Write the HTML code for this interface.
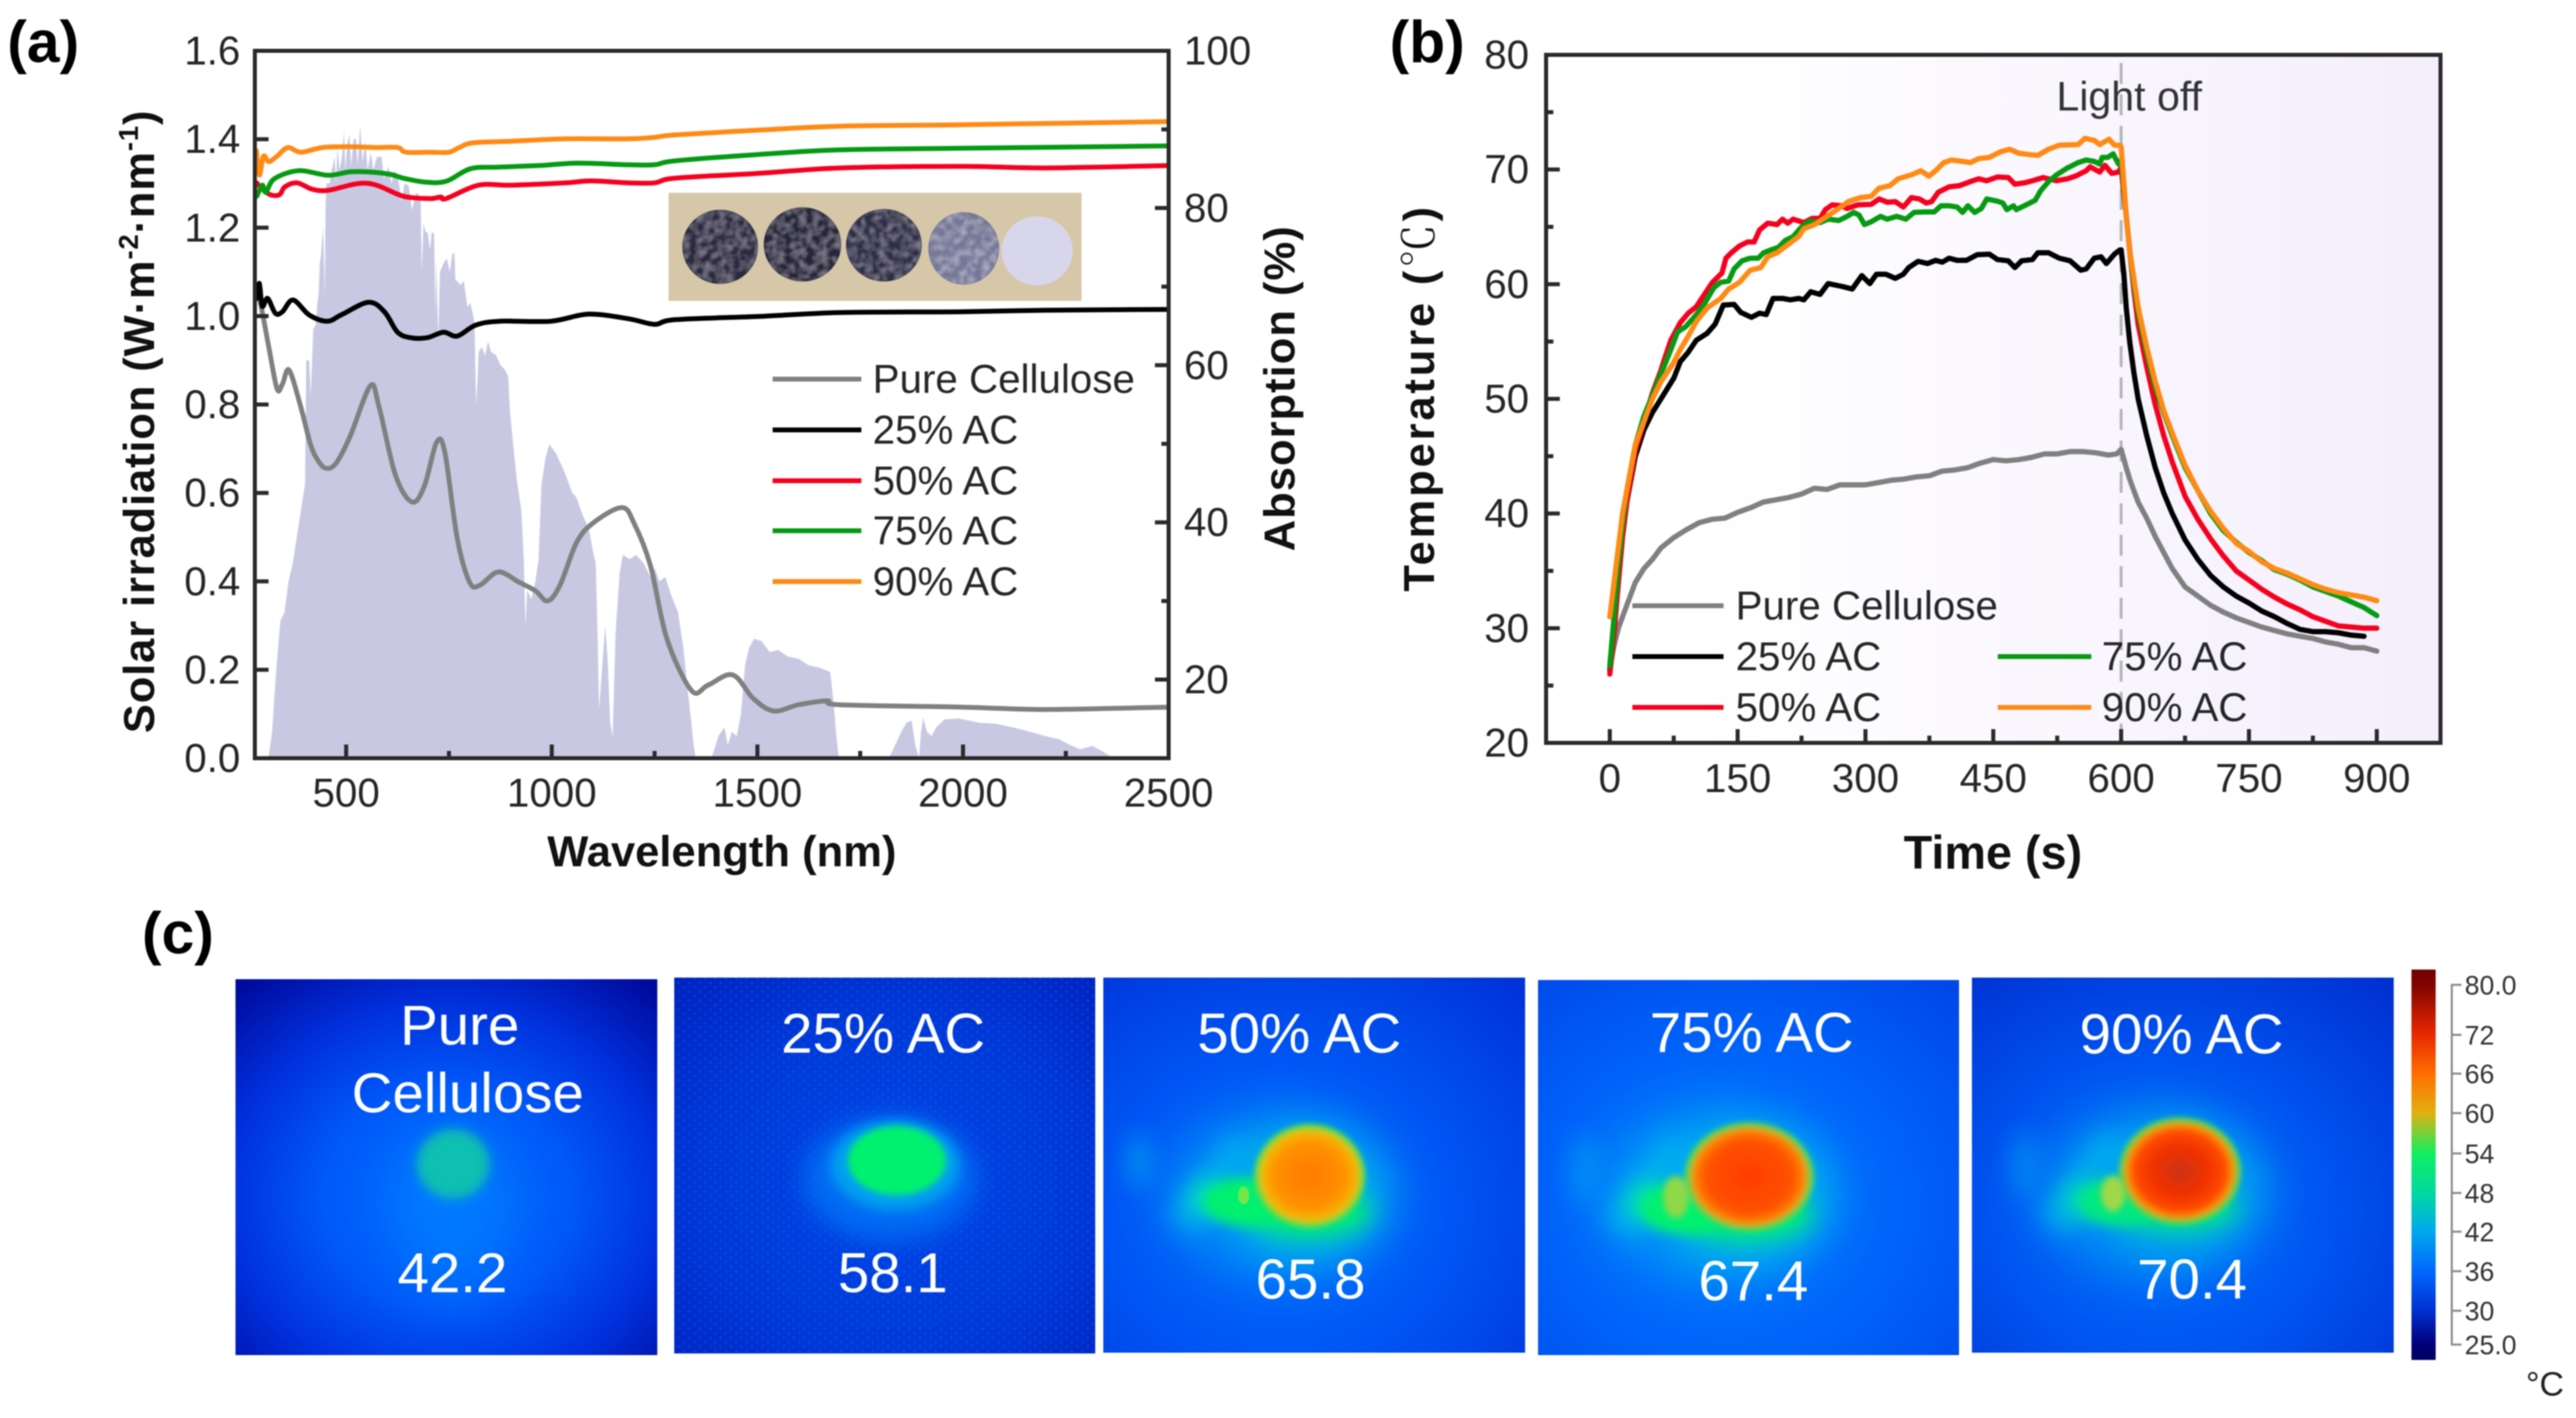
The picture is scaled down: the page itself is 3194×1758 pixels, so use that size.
<!DOCTYPE html>
<html lang="en">
<head>
<meta charset="utf-8">
<title>Solar absorption and photothermal performance of cellulose / AC films</title>
<style>
html,body{margin:0;padding:0;background:#fff;width:3194px;height:1758px;overflow:hidden}
svg{display:block;font-family:"Liberation Sans","Noto Sans CJK SC",sans-serif;filter:blur(.7px)}
.tick{font-size:50px;fill:#262626}
.leg{font-size:50px;fill:#262626}
.title{font-size:54px;font-weight:bold;fill:#111}
.panel{font-size:73px;font-weight:bold;fill:#000}
.hl{font-size:70px;fill:#fff;text-anchor:middle}
.cb{font-size:33px;fill:#333}
</style>
</head>
<body>
<svg xmlns="http://www.w3.org/2000/svg" width="3194" height="1758" viewBox="0 0 3194 1758">
<defs>
  <linearGradient id="bgB" x1="0" x2="1" y1="0" y2="0">
    <stop offset="0" stop-color="#ffffff"/><stop offset=".15" stop-color="#ffffff"/><stop offset=".6" stop-color="#f9f6fd"/><stop offset="1" stop-color="#f4eefc"/>
  </linearGradient>
  <radialGradient id="h1" cx=".5" cy=".58" r=".74">
    <stop offset="0" stop-color="#0074ff"/><stop offset=".4" stop-color="#0058f8"/><stop offset=".7" stop-color="#0030dc"/><stop offset="1" stop-color="#000a9c"/>
  </radialGradient>
  <radialGradient id="h2" cx=".52" cy=".55" r=".75">
    <stop offset="0" stop-color="#0048e8"/><stop offset=".6" stop-color="#0038d8"/><stop offset="1" stop-color="#0022c0"/>
  </radialGradient>
  <radialGradient id="h3" cx=".42" cy=".62" r=".8">
    <stop offset="0" stop-color="#0070ff"/><stop offset=".5" stop-color="#0056f4"/><stop offset="1" stop-color="#0034da"/>
  </radialGradient>
  <radialGradient id="h4" cx=".45" cy=".6" r=".8">
    <stop offset="0" stop-color="#0078ff"/><stop offset=".5" stop-color="#0064fa"/><stop offset="1" stop-color="#0046e8"/>
  </radialGradient>
  <radialGradient id="h5" cx=".45" cy=".62" r=".8">
    <stop offset="0" stop-color="#0070ff"/><stop offset=".5" stop-color="#0054f0"/><stop offset="1" stop-color="#0030d2"/>
  </radialGradient>
  <radialGradient id="blob3"><stop offset="0" stop-color="#ff7a00"/><stop offset=".65" stop-color="#ff9000"/><stop offset=".86" stop-color="#f8b000"/><stop offset="1" stop-color="#b0d830"/></radialGradient>
  <radialGradient id="blob4"><stop offset="0" stop-color="#ff3c00"/><stop offset=".7" stop-color="#ff5200"/><stop offset=".88" stop-color="#ff8000"/><stop offset="1" stop-color="#b8c838"/></radialGradient>
  <radialGradient id="blob5"><stop offset="0" stop-color="#c83018"/><stop offset=".45" stop-color="#f03000"/><stop offset=".78" stop-color="#ff4a00"/><stop offset=".9" stop-color="#ff8a00"/><stop offset="1" stop-color="#a8c838"/></radialGradient>
  <linearGradient id="cbar" x1="0" x2="0" y1="0" y2="1">
    <stop offset="0" stop-color="#700000"/><stop offset=".04" stop-color="#800400"/><stop offset=".167" stop-color="#e82800"/><stop offset=".267" stop-color="#ff6e00"/><stop offset=".368" stop-color="#e0b010"/><stop offset=".47" stop-color="#10f060"/><stop offset=".572" stop-color="#00d8a0"/><stop offset=".67" stop-color="#00a8ec"/><stop offset=".773" stop-color="#0068fc"/><stop offset=".874" stop-color="#0030d0"/><stop offset=".96" stop-color="#000078"/><stop offset="1" stop-color="#000060"/>
  </linearGradient>
  <pattern id="speck" width="13" height="11" patternUnits="userSpaceOnUse">
    <circle cx="3" cy="3" r="1.6" fill="#2090ff"/><circle cx="9.5" cy="8.5" r="1.6" fill="#2090ff"/>
  </pattern>
  <filter id="b4" x="-50%" y="-50%" width="200%" height="200%"><feGaussianBlur stdDeviation="4"/></filter>
  <filter id="b7" x="-50%" y="-50%" width="200%" height="200%"><feGaussianBlur stdDeviation="7"/></filter>
  <filter id="b14" x="-60%" y="-60%" width="220%" height="220%"><feGaussianBlur stdDeviation="14"/></filter>
  <filter id="b22" x="-60%" y="-60%" width="220%" height="220%"><feGaussianBlur stdDeviation="22"/></filter>
  <filter id="b30" x="-60%" y="-60%" width="220%" height="220%"><feGaussianBlur stdDeviation="30"/></filter>
  <filter id="mottle" x="0" y="0" width="100%" height="100%"><feTurbulence type="fractalNoise" baseFrequency=".11" numOctaves="3" seed="4"/><feColorMatrix values="0 0 0 0 .42  0 0 0 0 .4  0 0 0 0 .5  1.1 0 0 0 -.42"/><feComposite in2="SourceGraphic" operator="in"/><feGaussianBlur stdDeviation="1"/><feMerge><feMergeNode in="SourceGraphic"/><feMergeNode/></feMerge></filter>
  <filter id="mottleLight" x="0" y="0" width="100%" height="100%"><feTurbulence type="fractalNoise" baseFrequency=".11" numOctaves="3" seed="9"/><feColorMatrix values="0 0 0 0 .66  0 0 0 0 .66  0 0 0 0 .76  1.1 0 0 0 -.42"/><feComposite in2="SourceGraphic" operator="in"/><feGaussianBlur stdDeviation="1"/><feMerge><feMergeNode in="SourceGraphic"/><feMergeNode/></feMerge></filter>
  <clipPath id="clipA"><rect x="316" y="63" width="1133" height="877"/></clipPath>
  <clipPath id="c1"><rect x="292" y="1214" width="523" height="466"/></clipPath>
  <clipPath id="c2"><rect x="836" y="1212" width="522" height="466"/></clipPath>
  <clipPath id="c3"><rect x="1368" y="1212" width="523" height="465"/></clipPath>
  <clipPath id="c4"><rect x="1907" y="1215" width="522" height="465"/></clipPath>
  <clipPath id="c5"><rect x="2445" y="1212" width="523" height="465"/></clipPath>
</defs>

<text class="panel" x="9" y="77">(a)</text>
<text class="panel" x="1723" y="77">(b)</text>
<text class="panel" x="176" y="1182">(c)</text>

<g id="chartA">
  <g id="aSolar" clip-path="url(#clipA)"></g>
  <g id="aPhoto">
    <rect x="829" y="239" width="512" height="134" fill="#d6c7a8"/>
    <ellipse cx="893" cy="306" rx="47" ry="46" fill="#2b2a40" filter="url(#mottle)"/>
    <ellipse cx="995" cy="303" rx="48" ry="46" fill="#26253a" filter="url(#mottle)"/>
    <ellipse cx="1096" cy="304" rx="47" ry="45" fill="#2e2d46" filter="url(#mottle)"/>
    <ellipse cx="1195" cy="308" rx="44" ry="45" fill="#747798" filter="url(#mottleLight)"/>
    <ellipse cx="1286" cy="311" rx="44" ry="43" fill="#d8d6ea"/>
  </g>
  <g id="aLines" clip-path="url(#clipA)"></g>
  <rect x="316" y="63" width="1133" height="877" fill="none" stroke="#2a2a2a" stroke-width="5"/>
  <g id="aAxes"></g>
  <text class="title" x="895" y="1074" text-anchor="middle">Wavelength (nm)</text>
  <text class="title" transform="translate(191 523) rotate(-90)" text-anchor="middle" textLength="772">Solar irradiation (W·m<tspan dy="-20" font-size="34">-2</tspan><tspan dy="20">·nm</tspan><tspan dy="-20" font-size="34">-1</tspan><tspan dy="20">)</tspan></text>
  <text class="title" transform="translate(1605 482) rotate(-90)" text-anchor="middle" textLength="403">Absorption (%)</text>
  <g>
    <line x1="958" x2="1068" y1="470" y2="470" stroke="#808080" stroke-width="6"/>
    <text class="leg" x="1082" y="487">Pure Cellulose</text>
    <line x1="958" x2="1068" y1="533" y2="533" stroke="#000" stroke-width="6"/>
    <text class="leg" x="1082" y="550">25% AC</text>
    <line x1="958" x2="1068" y1="596" y2="596" stroke="#f5001e" stroke-width="6"/>
    <text class="leg" x="1082" y="613">50% AC</text>
    <line x1="958" x2="1068" y1="658" y2="658" stroke="#069a12" stroke-width="6"/>
    <text class="leg" x="1082" y="675">75% AC</text>
    <line x1="958" x2="1068" y1="721" y2="721" stroke="#ff8a14" stroke-width="6"/>
    <text class="leg" x="1082" y="738">90% AC</text>
  </g>
</g>

<g id="chartB">
  <rect x="1917" y="68" width="1109" height="853" fill="url(#bgB)"/>
  <line id="lightOffLine" x1="2630" x2="2630" y1="78" y2="921" stroke="#b4b4b4" stroke-width="3.5" stroke-dasharray="26 13"/>
  <g id="bLines"></g>
  <rect x="1917" y="68" width="1109" height="853" fill="none" stroke="#2a2a2a" stroke-width="5"/>
  <g id="bAxes"></g>
  <text x="2640" y="137" font-size="51" fill="#333" text-anchor="middle">Light off</text>
  <text class="title" x="2471" y="1077" text-anchor="middle" style="font-size:58px">Time (s)</text>
  <text class="title" transform="translate(1778 495) rotate(-90)" text-anchor="middle" textLength="477">Temperature (<tspan font-weight="normal" font-family="'Noto Serif CJK SC',serif">℃</tspan>)</text>
  <g>
    <line x1="2024" x2="2137" y1="751" y2="751" stroke="#808080" stroke-width="6"/>
    <text class="leg" x="2152" y="768">Pure Cellulose</text>
    <line x1="2024" x2="2137" y1="814" y2="814" stroke="#000" stroke-width="6"/>
    <text class="leg" x="2152" y="831">25% AC</text>
    <line x1="2024" x2="2137" y1="877" y2="877" stroke="#f5001e" stroke-width="6"/>
    <text class="leg" x="2152" y="894">50% AC</text>
    <line x1="2477" x2="2593" y1="814" y2="814" stroke="#069a12" stroke-width="6"/>
    <text class="leg" x="2606" y="831">75% AC</text>
    <line x1="2477" x2="2593" y1="877" y2="877" stroke="#ff8a14" stroke-width="6"/>
    <text class="leg" x="2606" y="894">90% AC</text>
  </g>
</g>

<g id="thermal">
  <g>
    <g clip-path="url(#c1)">
      <rect x="292" y="1214" width="523" height="466" fill="url(#h1)"/>
      <ellipse cx="563" cy="1500" rx="70" ry="110" fill="#0080ff" opacity=".6" filter="url(#b30)"/>
      <ellipse cx="562" cy="1443" rx="45" ry="43" fill="#10c0b0" filter="url(#b7)"/>
    </g>
    <text class="hl" x="570" y="1295">Pure</text>
    <text class="hl" x="580" y="1379">Cellulose</text>
    <text class="hl" x="561" y="1602">42.2</text>
  </g>
  <g>
    <g clip-path="url(#c2)">
      <rect x="836" y="1212" width="522" height="466" fill="url(#h2)"/>
      <rect x="836" y="1212" width="522" height="466" fill="url(#speck)" opacity=".18"/>
      <ellipse cx="1104" cy="1461" rx="108" ry="76" fill="#0070f4" opacity=".9" filter="url(#b14)"/>
      <ellipse cx="1110" cy="1445" rx="80" ry="56" fill="#00a0ee" filter="url(#b7)"/>
      <ellipse cx="1112" cy="1439" rx="61" ry="43" fill="#00f070" filter="url(#b4)"/>
    </g>
    <text class="hl" x="1095" y="1305">25% AC</text>
    <text class="hl" x="1107" y="1602">58.1</text>
  </g>
  <g>
    <g clip-path="url(#c3)">
      <rect x="1368" y="1212" width="523" height="465" fill="url(#h3)"/>
      <ellipse cx="1590" cy="1480" rx="145" ry="105" fill="#0090f4" opacity=".85" filter="url(#b30)"/>
      <ellipse cx="1615" cy="1480" rx="100" ry="85" fill="#00b0ee" opacity=".9" filter="url(#b22)"/>
      <ellipse cx="1412" cy="1440" rx="16" ry="34" fill="#00a0f0" opacity=".7" filter="url(#b14)"/>
      <line x1="1465" y1="1520" x2="1545" y2="1420" stroke="#00a8f0" stroke-width="44" filter="url(#b14)"/>
      <ellipse cx="1500" cy="1485" rx="26" ry="20" fill="#00e8b0" filter="url(#b14)"/>
      <ellipse cx="1545" cy="1490" rx="52" ry="30" fill="#00f070" filter="url(#b7)"/>
      <ellipse cx="1622" cy="1502" rx="78" ry="32" fill="#00f070" filter="url(#b14)"/>
      <ellipse cx="1624" cy="1458" rx="68" ry="64" fill="#30e060" filter="url(#b4)"/>
      <ellipse cx="1542" cy="1482" rx="7" ry="11" fill="#70e848"/>
      <ellipse cx="1624" cy="1458" rx="66" ry="61" fill="url(#blob3)" filter="url(#b4)"/>
    </g>
    <text class="hl" x="1611" y="1305">50% AC</text>
    <text class="hl" x="1625" y="1610">65.8</text>
  </g>
  <g>
    <g clip-path="url(#c4)">
      <rect x="1907" y="1215" width="522" height="465" fill="url(#h4)"/>
      <ellipse cx="2130" cy="1480" rx="150" ry="110" fill="#0098f4" opacity=".85" filter="url(#b30)"/>
      <ellipse cx="2160" cy="1482" rx="108" ry="90" fill="#00b0ee" opacity=".9" filter="url(#b22)"/>
      <ellipse cx="1965" cy="1450" rx="18" ry="44" fill="#00a0f0" opacity=".6" filter="url(#b14)"/>
      <line x1="2005" y1="1525" x2="2085" y2="1420" stroke="#00acf0" stroke-width="46" filter="url(#b14)"/>
      <ellipse cx="2045" cy="1490" rx="28" ry="24" fill="#00e8a8" filter="url(#b14)"/>
      <ellipse cx="2090" cy="1498" rx="56" ry="32" fill="#00f070" filter="url(#b7)"/>
      <ellipse cx="2165" cy="1506" rx="82" ry="32" fill="#00f070" filter="url(#b14)"/>
      <ellipse cx="2169" cy="1459" rx="80" ry="67" fill="#30e060" filter="url(#b4)"/>
      <ellipse cx="2078" cy="1484" rx="16" ry="26" fill="#90d848" filter="url(#b4)"/>
      <ellipse cx="2169" cy="1459" rx="76" ry="64" fill="url(#blob4)" filter="url(#b4)"/>
    </g>
    <text class="hl" x="2172" y="1304">75% AC</text>
    <text class="hl" x="2174" y="1612">67.4</text>
  </g>
  <g>
    <g clip-path="url(#c5)">
      <rect x="2445" y="1212" width="523" height="465" fill="url(#h5)"/>
      <ellipse cx="2670" cy="1478" rx="145" ry="105" fill="#0090f2" opacity=".85" filter="url(#b30)"/>
      <ellipse cx="2695" cy="1475" rx="104" ry="85" fill="#00a8ee" opacity=".9" filter="url(#b22)"/>
      <ellipse cx="2510" cy="1445" rx="18" ry="42" fill="#0098f0" opacity=".6" filter="url(#b14)"/>
      <line x1="2545" y1="1520" x2="2625" y2="1415" stroke="#00a8ee" stroke-width="44" filter="url(#b14)"/>
      <ellipse cx="2585" cy="1488" rx="26" ry="22" fill="#00e0b0" filter="url(#b14)"/>
      <ellipse cx="2628" cy="1490" rx="50" ry="30" fill="#00e880" filter="url(#b7)"/>
      <ellipse cx="2700" cy="1498" rx="74" ry="28" fill="#00e880" filter="url(#b14)"/>
      <ellipse cx="2703" cy="1452" rx="75" ry="66" fill="#30e060" filter="url(#b4)"/>
      <ellipse cx="2620" cy="1480" rx="15" ry="22" fill="#a0d848" filter="url(#b4)"/>
      <ellipse cx="2703" cy="1452" rx="72" ry="63" fill="url(#blob5)" filter="url(#b4)"/>
    </g>
    <text class="hl" x="2705" y="1306">90% AC</text>
    <text class="hl" x="2718" y="1610">70.4</text>
  </g>
  <g>
    <rect x="2990" y="1202" width="30" height="484" fill="url(#cbar)"/>
    <path d="M3052 1221H3040V1667H3052" fill="none" stroke="#888" stroke-width="2.5"/>
    <g stroke="#888" stroke-width="2.5">
      <line x1="3040" x2="3052" y1="1283" y2="1283"/><line x1="3040" x2="3052" y1="1331" y2="1331"/><line x1="3040" x2="3052" y1="1380" y2="1380"/><line x1="3040" x2="3052" y1="1430" y2="1430"/><line x1="3040" x2="3052" y1="1479" y2="1479"/><line x1="3040" x2="3052" y1="1527" y2="1527"/><line x1="3040" x2="3052" y1="1576" y2="1576"/><line x1="3040" x2="3052" y1="1625" y2="1625"/>
    </g>
    <text class="cb" x="3056" y="1233">80.0</text>
    <text class="cb" x="3056" y="1295">72</text>
    <text class="cb" x="3056" y="1343">66</text>
    <text class="cb" x="3056" y="1392">60</text>
    <text class="cb" x="3056" y="1442">54</text>
    <text class="cb" x="3056" y="1491">48</text>
    <text class="cb" x="3056" y="1539">42</text>
    <text class="cb" x="3056" y="1588">36</text>
    <text class="cb" x="3056" y="1637">30</text>
    <text class="cb" x="3056" y="1679">25.0</text>
    <text x="3132" y="1730" font-size="42" fill="#222">°C</text>
  </g>
</g>

<script>
// ---- Panel (a) data ----
const solarWavelength = [311,320,330,340,350,360,370,380,390,400,403,410,414,420,426,430,433,436,439,444,448,450,452,460,465,472,475,479,484,490,495,498,503,508,512,518,524,528,534,540,547,552,560,566,575,586,592,603,610,618,626,635,642,652,660,670,681,684,688,693,698,704,708,714,717,719,724,728,737,745,752,758,763,766,770,778,786,795,802,809,812,816,819,822,830,838,845,852,864,875,885,894,898,905,915,926,932,936,940,950,960,968,975,985,994,1010,1030,1050,1060,1075,1090,1100,1107,1112,1115,1122,1130,1136,1142,1148,1155,1165,1173,1190,1205,1224,1240,1250,1262,1276,1290,1307,1320,1330,1337,1345,1350,1388,1395,1405,1420,1428,1438,1450,1460,1470,1480,1492,1510,1530,1550,1574,1600,1625,1650,1677,1685,1692,1698,1820,1835,1850,1862,1875,1884,1893,1898,1903,1912,1924,1935,1955,1990,2040,2080,2130,2170,2200,2233,2260,2285,2315,2340,2366];
const solarIrradiance = [0,.06,.2,.31,.33,.4,.44,.5,.56,.62,.9,.9,.82,.97,.98,1.03,1.05,1.12,1.14,1.2,1.05,1.25,1.3,1.3,1.33,1.36,1.3,1.38,1.33,1.36,1.42,1.33,1.39,1.41,1.34,1.4,1.4,1.34,1.432,1.35,1.396,1.33,1.37,1.33,1.36,1.36,1.31,1.338,1.3,1.33,1.314,1.26,1.3,1.295,1.24,1.28,1.27,1.1,1.21,1.19,1.19,1.15,1.19,1.186,1,1.13,.95,1.1,1.12,1.13,1.1,1.14,1.143,1.08,1.08,1.07,1.08,1.02,1.03,1,.985,.8,.85,.918,.93,.91,.943,.92,.912,.89,.88,.864,.79,.72,.63,.56,.45,.3,.38,.36,.4,.45,.62,.68,.71,.69,.65,.6,.59,.55,.52,.47,.44,.25,.11,.2,.3,.22,.08,.05,.28,.42,.46,.45,.46,.44,.41,.43,.4,.41,.37,.33,.25,.16,.1,.03,0,0,.02,.05,.07,.03,.06,.05,.1,.21,.25,.27,.265,.24,.245,.23,.225,.21,.205,.195,.13,.05,0,0,.03,.06,.08,.085,.03,0,.06,.092,.06,.05,.07,.088,.09,.08,.078,.068,.058,.05,.043,.03,.02,.028,.015,0];

const pureWavelength = [280,292,312,332,345,361,387,413,430,450,475,510,559,580,620,660,690,720,740,770,800,825,870,920,960,990,1020,1060,1100,1170,1200,1240,1280,1340,1380,1440,1490,1540,1600,1670,1700,2000,2200,2500];
const pureAbsorption = [69.8,67.8,62.3,57,57.6,59.4,55.2,50,48,46.9,47.5,51,57.4,54.7,46,42.6,44.6,50.2,48.9,38,32.4,32,33.7,32.4,31.3,30,32,37.4,39.9,41.9,39.9,34.5,25.2,18.6,19.3,20.6,17.6,16,16.8,17.3,16.8,16.5,16.2,16.5];

const ac25Wavelength = [283,289,296,309,328,345,371,410,454,488,554,593,625,657,697,737,770,815,874,998,1090,1188,1250,1300,1500,1700,2000,2200,2500];
const ac25Absorption = [68.5,70.4,67.5,68.5,66.6,66.8,68.3,66.4,65.6,66.4,68,66.8,64.2,63.5,63.5,64.2,63.7,65.1,65.6,65.6,66.5,65.9,65.2,65.8,66.2,66.7,66.8,67,67.1];

const ac50Wavelength = [283,292,315,338,351,381,417,456,528,574,639,704,730,743,822,900,1031,1096,1188,1250,1300,1500,1700,2000,2200,2500];
const ac50Absorption = [83.2,82.6,81.7,81.7,82.7,83.2,82.4,82.25,83.1,82.9,81.5,81.2,81.4,81.2,82.9,82.9,83.2,83.45,83.2,83.2,83.8,84.4,85.1,85.3,85.1,85.4];

const ac75Wavelength = [283,296,305,325,384,456,508,554,606,639,691,743,802,868,966,1064,1188,1250,1300,1500,1700,2000,2500];
const ac75Absorption = [81.5,82.9,82,83.7,84.75,84.17,84.6,84.6,84.3,83.8,83.3,83.4,85,85.2,85.4,85.7,85.5,85.5,86,86.8,87.4,87.6,87.9];

const ac90Wavelength = [282,289,299,312,332,358,390,443,508,574,626,645,704,750,775,809,900,1031,1188,1250,1300,1500,1700,2000,2500];
const ac90Absorption = [87.3,84.2,86.6,85.9,86.6,87.7,87.1,87.7,87.8,87.7,87.7,87.1,87.1,87.1,87.7,88.3,88.5,88.8,88.8,89,89.3,89.9,90.4,90.6,91];

const aXTicks = [500,1000,1500,2000,2500];
const aXTickLabels = ['500','1000','1500','2000','2500'];
const aXMinorTicks = [750,1250,1750,2250];
const aLeftTicks = [0,.2,.4,.6,.8,1,1.2,1.4,1.6];
const aLeftTickLabels = ['0.0','0.2','0.4','0.6','0.8','1.0','1.2','1.4','1.6'];
const aRightTicks = [20,40,60,80,100];
const aRightTickLabels = ['20','40','60','80','100'];
const aRightMinorTicks = [30,50,70,90];

// ---- Panel (b) data ----
const pureTime = [0,5,10,15,20,30,40,50,60,75,90,105,120,135,150,165,180,195,210,225,240,255,270,285,300,315,330,345,360,375,390,405,420,435,450,465,480,495,510,525,540,555,570,585,595,600,603,606,610,615,620,630,640,650,660,675,690,705,720,735,750,765,780,795,810,825,840,855,870,885,900];
const pureTemp = [26.5,28.5,30,31,32,34,35.2,36,37,37.9,38.6,39.2,39.5,39.6,40.1,40.5,41,41.2,41.4,41.7,42.2,42.1,42.5,42.5,42.5,42.7,42.9,43,43.2,43.3,43.7,43.8,44,44.4,44.7,44.6,44.7,44.9,45.2,45.2,45.4,45.4,45.3,45.1,45.2,45.6,44.8,44,43,42,41,39.6,38,36.6,35.2,33.6,32.8,32,31.4,30.9,30.5,30.1,29.8,29.5,29.3,29.1,28.8,28.6,28.3,28.3,28];

const ac25Time = [0,5,10,15,20,30,40,50,60,75,82.7,92.1,101.6,114.2,123.7,133.2,145.8,153.7,166.3,175.7,183.6,191.5,202.6,212,221.5,227.8,235.7,246.7,256.2,272,284.6,295.6,305.1,312.9,324,335,344.5,350.8,361.8,372.9,382.3,390.2,398.1,407.6,418.6,431.2,445.4,454.9,467.5,475.4,483.3,495.9,502.2,514.8,527.5,540.1,552.7,559,568.5,576.4,582.7,592.1,598.4,600,603,606,610,615,620,630,640,650,660,675,690,705,720,735,750,765,780,795,810,825,840,855,870,885];
const ac25Temp = [26.3,30,34,38,41,45,47.3,48.8,50,51.8,53.24,54.07,55.12,55.71,56.53,58.17,58.24,57.54,57.11,57.47,57.35,58.76,58.76,58.64,58.76,58.64,59.34,59.11,60.05,59.81,59.58,60.75,60.05,60.87,60.87,60.51,60.87,61.45,61.99,61.8,62.08,61.92,62.27,62.08,62.08,62.58,62.62,62.15,62.04,61.45,62.04,62.15,62.74,62.74,62.27,62.04,61.22,61.33,62.27,62.39,61.8,62.62,62.98,63,61,58,55,52.3,50,46.8,44,41.8,40,37.7,36,34.6,33.6,32.8,32.2,31.5,31,30.4,29.9,29.7,29.7,29.6,29.4,29.3];

const ac50Time = [0,5,10,15,20,30,40,50,60,63.7,71.6,82.7,92.1,101.6,111,120.5,131.6,136.3,142.6,152.1,161.6,169.4,175.7,185.2,196.3,202.6,208.9,215.2,227.8,237.3,246.7,253,260.9,272,278.3,290.9,306.7,316,325.5,335,344.5,353.9,363.4,371.3,377.6,385.5,398.1,410.7,423.3,432.8,442.3,454.9,467.5,475.4,486.4,495.9,508.5,524.3,536.9,546.4,559,563.7,574.8,581.1,589,596.9,600,603,606,610,615,620,630,640,650,660,675,690,705,720,735,750,765,780,795,810,825,840,855,870,885,900];
const ac50Temp = [26,29.5,34,38,41,45.5,48,50.5,52.5,53.36,55.12,56.65,57.47,58.05,59.1,60.16,60.98,62.27,62.74,63.33,63.68,63.68,64.73,65.32,65.2,65.67,65.32,65.67,65.37,65.74,65.74,66.5,66.92,66.84,66.6,66.92,66.96,67.43,67.15,67.2,66.73,67.55,67.43,67.08,67.2,68.02,68.49,68.6,68.95,69.19,69.02,69.35,69.3,68.72,68.84,69.02,69.3,69.02,69.19,69.42,69.89,70.24,69.78,70.36,69.66,69.78,70.2,68,66,63,59.5,56.5,52.8,49.5,46.8,44.5,41.5,39.5,37.8,36.3,35,34.2,33.4,32.7,32.1,31.6,31,30.6,30.2,30.1,30,30];

const ac75Time = [0,5,10,15,20,30,40,50,60,65.3,71.6,79.5,89,101.6,111,122.1,130,139.5,145.8,155.2,164.7,174.2,180.5,190,197.8,205.7,215.2,224.7,234.1,246.7,256.2,268.8,278.3,286.2,292.5,298.8,306.7,317.6,325.5,336.6,347.6,357,369.7,380.7,388.6,398.1,407.6,413.9,420.2,428.1,436,442.3,454.9,461.2,465.9,473.8,477,486.4,499.1,505.4,514.8,524.3,536.9,549.5,559,568.5,574.8,577.9,584.2,590.6,596.9,600,603,606,610,615,620,630,640,650,660,675,690,705,720,735,750,765,780,795,810,825,840,855,870,885,900];
const ac75Temp = [26.7,31,35.5,39,42,46,48.5,50.3,52.2,53.13,54.3,55.83,56.29,57.35,58.29,59.69,60.16,60.28,61.33,62.04,62.27,62.27,62.74,63.02,63.21,63.8,64.15,64.97,65.51,65.37,65.67,65.55,65.91,66.26,66.02,65.2,65.44,65.91,65.67,65.91,65.67,66.26,66.3,66.3,66.84,66.84,66.73,66.26,66.84,66.26,66.61,67.43,67.24,67.08,66.5,66.84,66.5,66.84,67.31,68.13,68.95,69.54,70.13,70.6,70.83,70.71,70.48,71.06,71.06,71.37,70.48,70.8,68.5,66,63,60,57.5,54,51,48.8,46.8,44,42,40,38.5,37.5,36.6,35.9,35.1,34.7,34.2,33.6,33.2,32.8,32.3,31.8,31.1];

const ac90Time = [0,5,10,15,20,30,40,50,60,74.8,82.7,92.1,101.6,114.2,130,139.5,152.1,164.7,177.3,185.2,196.3,208.9,221.5,227.8,240.4,249.9,259.4,268.8,279.9,294,306.7,316,328.7,338.2,353.9,365,374.4,382.3,391.8,401.3,413.9,423.3,432.8,445.4,458,469.1,480.1,492.7,502.2,514.8,527.5,549.5,557.4,568.5,574.8,585.8,592.1,598.4,600,603,606,610,615,620,630,640,650,660,675,690,705,720,735,750,765,780,795,810,825,840,855,870,885,900];
const ac90Temp = [31,34,37,40,42,46,48,50,51.5,53.13,54.3,55.47,56.76,57.93,58.75,59.58,60.16,61.22,61.45,62.39,62.74,63.44,64.15,64.85,65.2,65.67,66.14,66.61,67.2,67.55,67.66,68.37,68.6,69.19,69.54,69.89,69.42,69.89,70.6,70.83,70.71,70.6,70.95,71.06,71.53,71.77,71.42,71.3,71.23,71.77,72.12,72.17,72.71,72.54,72.17,72.64,72.12,72.12,72,69,66,63,60.5,58,54.5,51.5,49,47,44.2,42,40.2,38.7,37.4,36.7,35.8,35.2,34.8,34.3,33.8,33.4,33.1,32.9,32.7,32.4];

const bXTicks = [0,150,300,450,600,750,900];
const bXTickLabels = ['0','150','300','450','600','750','900'];
const bXMinorTicks = [75,225,375,525,675,825];
const bYTicks = [20,30,40,50,60,70,80];
const bYTickLabels = ['20','30','40','50','60','70','80'];
const bYMinorTicks = [25,35,45,55,65,75];

// ---- Axis functions ----
const aXMin = 278, aXMax = 2500;
function xA(v){ return 316 + (v - aXMin) / (aXMax - aXMin) * 1133; }
function yASolar(v){ return 940 - v / 1.6 * 877; }
function yAAbs(v){ return 940 - (v - 10) / 90 * 877; }
function xB(v){ return 1996 + v / 900 * 951; }
function yB(v){ return 921 - (v - 20) / 60 * 853; }

const NS = 'http://www.w3.org/2000/svg';
function mk(tag, attrs, parent){
  const el = document.createElementNS(NS, tag);
  for (const k in attrs) el.setAttribute(k, attrs[k]);
  parent.appendChild(el);
  return el;
}
function pathFrom(xs, ys, fx, fy){
  let d = '';
  xs.forEach(function(x, i){
    d += (d ? 'L' : 'M') + fx(x).toFixed(1) + ' ' + fy(ys[i]).toFixed(1);
  });
  return d;
}
// Catmull-Rom curve through the data points, used for the smooth spectra.
function smoothFrom(xs, ys, fx, fy){
  const p = xs.map(function(x, i){ return [fx(x), fy(ys[i])]; });
  let d = 'M' + p[0][0].toFixed(1) + ' ' + p[0][1].toFixed(1);
  for (let i = 0; i < p.length - 1; i++) {
    const a = p[Math.max(i - 1, 0)], b = p[i], c = p[i + 1], e = p[Math.min(i + 2, p.length - 1)];
    d += 'C' + (b[0] + (c[0] - a[0]) / 6).toFixed(1) + ' ' + (b[1] + (c[1] - a[1]) / 6).toFixed(1) + ' ' +
         (c[0] - (e[0] - b[0]) / 6).toFixed(1) + ' ' + (c[1] - (e[1] - b[1]) / 6).toFixed(1) + ' ' +
         c[0].toFixed(1) + ' ' + c[1].toFixed(1);
  }
  return d;
}
function tickLine(parent, x1, y1, x2, y2){
  const el = mk('line', {x1:x1, y1:y1, x2:x2, y2:y2, stroke:'#2a2a2a', 'stroke-width':5}, parent);
  
  
  return el;
}
function tickText(parent, x, y, anchor, s){
  const el = mk('text', {x:x, y:y, 'text-anchor':anchor, class:'tick'}, parent);
  el.textContent = s;
  
  
  return el;
}

// ---- Draw panel (a) ----
const aSolar = document.getElementById('aSolar');
const solarD = 'M' + xA(solarWavelength[0]).toFixed(1) + ' ' + yASolar(0) + pathFrom(solarWavelength, solarIrradiance, xA, yASolar).replace('M', 'L') + 'L' + xA(solarWavelength[solarWavelength.length - 1]).toFixed(1) + ' ' + yASolar(0) + 'Z';
const solarArea = mk('path', {d:solarD, fill:'#c8c8e2'}, aSolar);



const aLines = document.getElementById('aLines');
const lineStyle = {fill:'none', 'stroke-width':6, 'stroke-linejoin':'round', 'stroke-linecap':'round'};
function aLine(xs, ys, color){
  return mk('path', Object.assign({d:smoothFrom(xs, ys, xA, yAAbs), stroke:color}, lineStyle), aLines);
}
const aPure = aLine(pureWavelength, pureAbsorption, '#808080');


const a25 = aLine(ac25Wavelength, ac25Absorption, '#000000');


const a50 = aLine(ac50Wavelength, ac50Absorption, '#f5001e');


const a75 = aLine(ac75Wavelength, ac75Absorption, '#069a12');


const a90 = aLine(ac90Wavelength, ac90Absorption, '#ff8a14');



const aAxes = document.getElementById('aAxes');
aXTicks.forEach(function(v, i){
  tickLine(aAxes, xA(v), 940, xA(v), 923);
  tickText(aAxes, xA(v), 1000, 'middle', aXTickLabels[i]);
});
aXMinorTicks.forEach(function(v){ tickLine(aAxes, xA(v), 940, xA(v), 931); });
aLeftTicks.forEach(function(v, i){
  tickLine(aAxes, 316, yASolar(v), 333, yASolar(v));
  tickText(aAxes, 298, yASolar(v) + 17, 'end', aLeftTickLabels[i]);
});
aRightTicks.forEach(function(v, i){
  tickLine(aAxes, 1449, yAAbs(v), 1432, yAAbs(v));
  tickText(aAxes, 1468, yAAbs(v) + 17, 'start', aRightTickLabels[i]);
});
aRightMinorTicks.forEach(function(v){ tickLine(aAxes, 1449, yAAbs(v), 1440, yAAbs(v)); });

// ---- Draw panel (b) ----
const bLines = document.getElementById('bLines');
function bLine(xs, ys, color){
  return mk('path', Object.assign({d:pathFrom(xs, ys, xB, yB), stroke:color}, lineStyle, {'stroke-width':6.5}), bLines);
}
const bPure = bLine(pureTime, pureTemp, '#808080');


const b25 = bLine(ac25Time, ac25Temp, '#000000');


const b50 = bLine(ac50Time, ac50Temp, '#f5001e');


const b75 = bLine(ac75Time, ac75Temp, '#069a12');


const b90 = bLine(ac90Time, ac90Temp, '#ff8a14');



const bAxes = document.getElementById('bAxes');
bXTicks.forEach(function(v, i){
  tickLine(bAxes, xB(v), 921, xB(v), 904);
  tickText(bAxes, xB(v), 982, 'middle', bXTickLabels[i]);
});
bXMinorTicks.forEach(function(v){ tickLine(bAxes, xB(v), 921, xB(v), 912); });
bYTicks.forEach(function(v, i){
  tickLine(bAxes, 1917, yB(v), 1934, yB(v));
  tickText(bAxes, 1896, yB(v) + 17, 'end', bYTickLabels[i]);
});
bYMinorTicks.forEach(function(v){ tickLine(bAxes, 1917, yB(v), 1926, yB(v)); });
</script>
</svg>
</body>
</html>
